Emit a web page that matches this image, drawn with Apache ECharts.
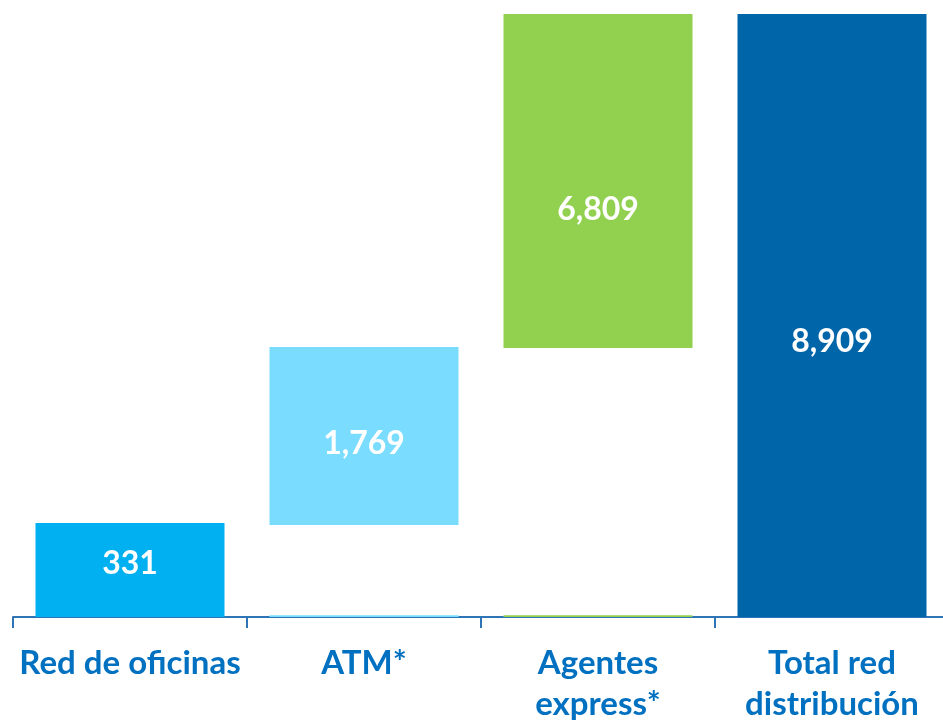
<!DOCTYPE html>
<html>
<head>
<meta charset="utf-8">
<script src="https://cdn.jsdelivr.net/npm/echarts@6/dist/echarts.min.js"></script>
<style>html,body{margin:0;padding:0;background:#fff;}#c{width:943px;height:721px;}</style>
</head>
<body>
<div id="c"></div>
<script>
// Category names
const categories = ['Red de oficinas', 'ATM*', 'Agentes\nexpress*', 'Total red\ndistribución'];
// Values printed on the bars
const labelValues = [331, 1769, 6809, 8909];
// Drawn extent of each floating bar in axis units (the original is not to scale)
const barStart = [0, 1360, 3975, 0];
const barEnd = [1390, 3990, 8909, 8909];
// Thin coloured strip at the foot of the floating bars
const footValues = [0, 25, 25, 0];
const barColors = ['#00B0F0', '#7ADCFF', '#92D050', '#0065A9'];
const labelOffsets = [[0, -6], [0, 8], [0, 29], [0, 26]];

const baseValues = barStart.map((s, i) => s - footValues[i]);
const spanValues = barEnd.map((e, i) => e - barStart[i]);

const chart = echarts.init(document.getElementById('c'), null, {renderer: 'canvas'});
chart.setOption({
  animation: false,
  grid: {left: 13, right: -6, top: 14, bottom: 104, containLabel: false, outerBoundsMode: 'none'},
  xAxis: {
    type: 'category',
    data: categories,
    axisLine: {lineStyle: {color: '#2E75B6', width: 2}},
    axisTick: {show: true, length: 11, lineStyle: {color: '#2E75B6', width: 2}},
    axisLabel: {
      color: '#0070C0', fontFamily: 'Lato', fontWeight: 'bold', fontSize: 33,
      lineHeight: 41, margin: 26, interval: 0
    }
  },
  yAxis: {
    type: 'value', min: 0, max: 8909, show: false,
    splitLine: {show: false}
  },
  series: [
    {
      type: 'bar', stack: 'w', barWidth: 189,
      data: footValues.map((v, i) => ({value: v, itemStyle: {color: barColors[i]}}))
    },
    {
      type: 'bar', stack: 'w',
      itemStyle: {color: 'rgba(0,0,0,0)'},
      data: baseValues
    },
    {
      type: 'bar', stack: 'w',
      data: spanValues.map((v, i) => ({
        value: v,
        itemStyle: {color: barColors[i]},
        label: {offset: labelOffsets[i]}
      })),
      label: {
        show: true, position: 'inside', color: '#fff', fontFamily: 'Lato',
        fontWeight: 'bold', fontSize: 32,
        formatter: p => labelValues[p.dataIndex].toLocaleString('en-US')
      }
    }
  ]
});
</script>
</body>
</html>
